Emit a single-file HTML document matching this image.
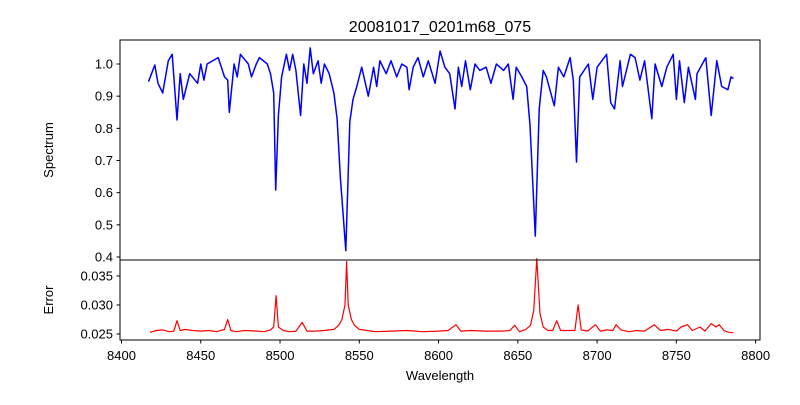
<!DOCTYPE html>
<html><head><meta charset="utf-8"><style>
body{margin:0;background:#fff;}
svg text{font-family:"Liberation Sans","DejaVu Sans",sans-serif;fill:#000;}
</style></head><body>
<svg id="chart" width="800" height="400" viewBox="0 0 800 400" xmlns="http://www.w3.org/2000/svg">
<rect width="800" height="400" fill="#fff"/>
<text x="440" y="32" font-size="16" text-anchor="middle">20081017_0201m68_075</text>
<g id="gtop"></g><g id="gbot"></g>
<text transform="translate(53,150) rotate(-90)" font-size="13" text-anchor="middle">Spectrum</text>
<text transform="translate(53,300) rotate(-90)" font-size="13" text-anchor="middle">Error</text>
<text x="440" y="380" font-size="13" text-anchor="middle">Wavelength</text>
</svg>
<script>
const specW=[8417,8421,8423,8426,8429.5,8432,8435,8437,8439,8443,8448,8450,8452,8454,8461,8465,8467,8468,8471,8473,8475,8480,8482,8485,8487,8492,8494,8496,8497.3,8499,8501,8504,8506,8508,8510,8513,8515,8517,8519,8521,8524,8526,8528,8531,8534,8536,8538,8541.5,8544,8546,8548.4,8551.5,8555.7,8559,8561,8563,8567,8570,8573.6,8576.8,8580,8581.4,8584,8587,8590.4,8593.5,8597.8,8601,8604,8607,8610.4,8612.5,8614.6,8617,8620,8623,8626,8630,8633,8636.5,8641,8644,8647,8649,8652.5,8655.6,8657.7,8661,8663.5,8666,8668,8673,8675.6,8679,8683,8685,8687,8689,8694.5,8697.3,8700,8706,8708.6,8711,8714.5,8716,8721,8724,8727,8730,8734.5,8736.6,8740.8,8744,8748,8750,8752,8755,8757.6,8762,8763,8768.6,8772,8775.5,8778.6,8782.5,8784.5,8786];
const specF=[0.945,0.997,0.94,0.91,1.01,1.03,0.826,0.97,0.89,0.97,0.94,1.0,0.95,1.0,1.02,0.96,0.95,0.85,1.0,0.96,1.03,1.0,0.96,1.0,1.02,1.0,0.97,0.91,0.608,0.84,0.96,1.03,0.98,1.03,0.98,0.84,1.0,0.94,1.05,0.97,1.01,0.94,1.0,0.97,0.91,0.83,0.65,0.42,0.82,0.89,0.93,0.99,0.9,0.99,0.93,1.01,0.97,1.01,0.96,1.0,0.99,0.92,0.99,1.02,0.96,1.01,0.94,1.04,0.99,0.97,0.86,0.99,0.93,1.01,0.92,1.0,0.98,0.99,0.94,1.0,0.98,1.0,0.89,0.99,0.96,0.93,0.81,0.465,0.86,0.98,0.96,0.87,0.99,0.96,1.02,0.95,0.695,0.96,1.0,0.89,0.99,1.03,0.88,0.86,1.01,0.93,1.03,1.02,0.95,1.01,0.83,1.0,0.93,0.99,1.03,0.89,1.01,0.88,0.99,0.89,0.97,1.02,0.84,1.01,0.93,0.92,0.96,0.955];
const errW=[8418,8422,8426,8430,8433,8435,8437,8440,8445,8450,8455,8460,8465,8467,8469,8472,8478,8485,8490,8494,8496,8497.5,8499,8502,8506,8510,8514,8517,8522,8528,8534,8537,8539,8541,8542,8543,8545,8547,8550,8555,8560,8570,8580,8590,8600,8606,8611,8614,8620,8630,8640,8645,8648,8651,8655,8658,8660,8662,8664,8666,8669,8672,8674.5,8677,8682,8686,8688,8690,8694,8699,8702,8706,8710,8712,8715,8720,8725,8730,8736,8740,8745,8750,8753,8757,8760,8765,8768,8772,8775,8777,8780,8783,8786];
const errE=[0.0253,0.0256,0.0257,0.0254,0.0255,0.0273,0.0256,0.0258,0.0256,0.0255,0.0256,0.0254,0.0258,0.0275,0.0256,0.0254,0.0256,0.0255,0.0254,0.0257,0.0262,0.0316,0.0262,0.0256,0.0254,0.0255,0.0270,0.0255,0.0255,0.0256,0.0258,0.0265,0.0275,0.0300,0.0375,0.0300,0.0275,0.0265,0.0258,0.0256,0.0254,0.0255,0.0256,0.0254,0.0255,0.0256,0.0266,0.0255,0.0256,0.0255,0.0255,0.0256,0.0265,0.0254,0.0258,0.0265,0.0290,0.0380,0.0285,0.0262,0.0256,0.0256,0.0273,0.0256,0.0256,0.0256,0.0300,0.0257,0.0255,0.0266,0.0255,0.0257,0.0256,0.0266,0.0257,0.0254,0.0256,0.0255,0.0266,0.0256,0.0258,0.0255,0.0262,0.0266,0.0256,0.0262,0.0255,0.0268,0.0262,0.0266,0.0256,0.0253,0.0252];
const xTicks=[8400,8450,8500,8550,8600,8650,8700,8750,8800];
const topTicks=[0.4,0.5,0.6,0.7,0.8,0.9,1.0];
const botTicks=[0.025,0.030,0.035];

const NS='http://www.w3.org/2000/svg';
const X=w=>121.5+(w-8400)*1.5853;
const YT=v=>64+(1-v)*321.7;
const YB=v=>334-(v-0.025)*5800;
function mk(tag,attrs,parent){const e=document.createElementNS(NS,tag);for(const k in attrs)e.setAttribute(k,attrs[k]);parent.appendChild(e);return e;}
const gTop=document.getElementById('gtop'),gBot=document.getElementById('gbot');
const pt=specW.map((w,i)=>X(w).toFixed(1)+','+YT(specF[i]).toFixed(1)).join(' ');
const sl=mk('polyline',{points:pt,fill:'none',stroke:'#0000ff','stroke-width':1.5,'stroke-linejoin':'round'},gTop);


const pb=errW.map((w,i)=>X(w).toFixed(1)+','+YB(errE[i]).toFixed(1)).join(' ');
const el=mk('polyline',{points:pb,fill:'none',stroke:'#ff0000','stroke-width':1.2,'stroke-linejoin':'round'},gBot);


const f1=mk('rect',{x:120,y:40,width:640,height:220,fill:'none',stroke:'#000','stroke-width':1},gTop);


const f2=mk('rect',{x:120,y:260,width:640,height:80,fill:'none',stroke:'#000','stroke-width':1},gBot);


topTicks.forEach(v=>{const y=YT(v);mk('line',{x1:116.5,x2:120,y1:y,y2:y,stroke:'#000'},gTop);
 const t=mk('text',{x:113,y:y+4.5,'font-size':13,'text-anchor':'end'},gTop);t.textContent=v.toFixed(1);
 
 });
botTicks.forEach(v=>{const y=YB(v);mk('line',{x1:116.5,x2:120,y1:y,y2:y,stroke:'#000'},gBot);
 const t=mk('text',{x:113,y:y+4.5,'font-size':13,'text-anchor':'end'},gBot);t.textContent=v.toFixed(3);
 
 });
xTicks.forEach(w=>{const x=X(w);mk('line',{x1:x,x2:x,y1:340,y2:343.5,stroke:'#000'},gBot);
 const t=mk('text',{x:x,y:360,'font-size':13,'text-anchor':'middle'},gBot);t.textContent=w;
 
 });
</script>
</body></html>
